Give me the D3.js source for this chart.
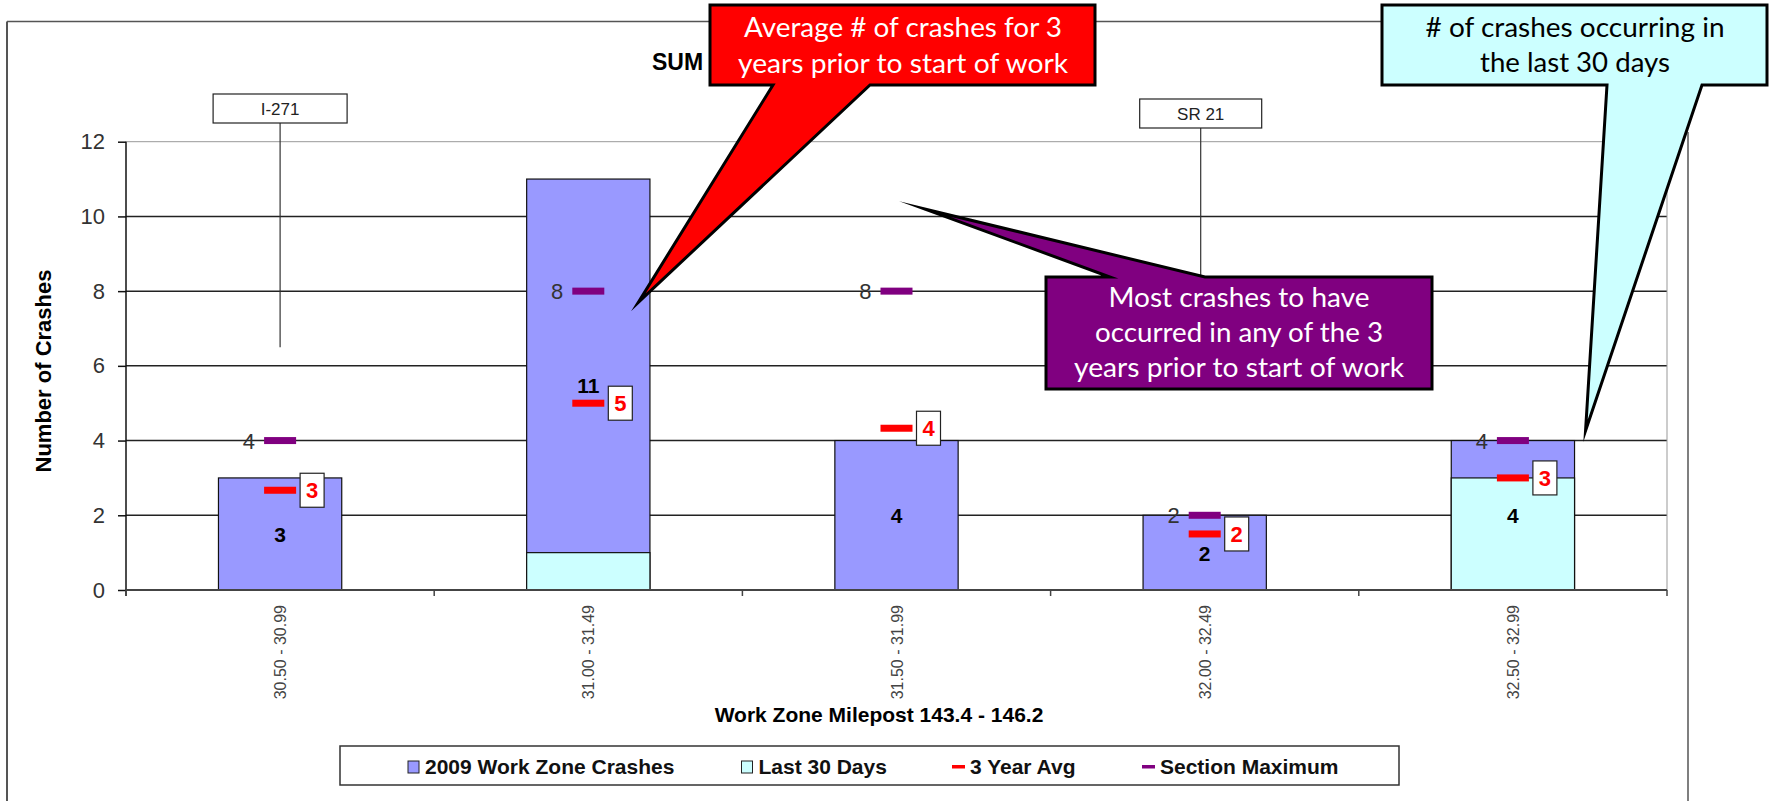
<!DOCTYPE html>
<html lang="en">
<head>
    <meta charset="UTF-8">
    <title>Work Zone Crash Summary</title>
    <style>
        body { margin: 0; background: #fff; }
        .tick text { font-family: "Liberation Sans", Arial, sans-serif; }
        .callout-text { font-family: Lato, "Open Sans", sans-serif; font-size: 27px; text-anchor: middle; }
    </style>
    <script src="https://d3js.org/d3.v7.min.js"></script>
</head>
<body>
    <div id="chart"></div>
    <script>
        const categories = ["30.50 - 30.99", "31.00 - 31.49", "31.50 - 31.99", "32.00 - 32.49", "32.50 - 32.99"];
        const workZoneCrashes = [3, 11, 4, 2, 4];
        const last30Days = [0, 1, 0, 0, 3];
        const threeYearAvg = [2.67, 5, 4.33, 1.5, 3];
        const sectionMax = [4, 8, 8, 2, 4];
        const yTicks = [0, 2, 4, 6, 8, 10, 12];
        const routeMarkers = [
            { name: "I-271", category: "30.50 - 30.99", top: 6.5 },
            { name: "SR 21", category: "32.00 - 32.49", top: 6.5 }
        ];
        const legendItems = ["2009 Work Zone Crashes", "Last 30 Days", "3 Year Avg", "Section Maximum"];

        const width = 1773, height = 801;
        const font = '"Liberation Sans", Arial, sans-serif';

        const svg = d3.select("#chart").append("svg")
            .attr("width", width)
            .attr("height", height);

        const x = d3.scaleBand().domain(categories).range([126, 1667]);
        const y = d3.scaleLinear().domain([0, 12]).range([590, 141.7]);
        const bw = x.bandwidth() * 0.4;
        const cx = c => x(c) + x.bandwidth() / 2;

        // outer chart frame
        svg.append("line").attr("x1", 7).attr("x2", 7).attr("y1", 21.5).attr("y2", height)
            .attr("stroke", "#555").attr("stroke-width", 2);
        svg.append("line").attr("x1", 7).attr("x2", 1688).attr("y1", 21.5).attr("y2", 21.5)
            .attr("stroke", "#555").attr("stroke-width", 1.5);
        svg.append("line").attr("x1", 1688).attr("x2", 1688).attr("y1", 132).attr("y2", height)
            .attr("stroke", "#555").attr("stroke-width", 1.5);

        // title, the rest of it sits under the red callout
        svg.append("text")
            .attr("x", 652).attr("y", 70)
            .attr("font-family", font).attr("font-size", 23).attr("font-weight", "bold")
            .text("SUM");

        // gridlines
        svg.append("g").selectAll("line")
            .data(yTicks.filter(d => d > 0))
            .join("line")
            .attr("x1", 126).attr("x2", 1667)
            .attr("y1", d => y(d)).attr("y2", d => y(d))
            .attr("stroke", d => d === 12 ? "#999" : "#222")
            .attr("stroke-width", d => d === 12 ? 1 : 1.5);
        svg.append("line").attr("x1", 1667).attr("x2", 1667).attr("y1", y(12)).attr("y2", y(0))
            .attr("stroke", "#999");

        // route markers
        const markerBox = { "I-271": { w: 134, top: 94 }, "SR 21": { w: 122, top: 99 } };
        routeMarkers.forEach(m => {
            const b = markerBox[m.name];
            const mx = m.name === "SR 21" ? cx(m.category) - 4 : cx(m.category);
            svg.append("line")
                .attr("x1", mx).attr("x2", mx)
                .attr("y1", b.top + 29).attr("y2", y(m.top))
                .attr("stroke", "#333").attr("stroke-width", 1.2);
            svg.append("rect")
                .attr("x", mx - b.w / 2).attr("y", b.top)
                .attr("width", b.w).attr("height", 29)
                .attr("fill", "#fff").attr("stroke", "#222").attr("stroke-width", 1.2);
            svg.append("text")
                .attr("x", mx).attr("y", b.top + 21)
                .attr("text-anchor", "middle")
                .attr("font-family", font).attr("font-size", 17).attr("fill", "#222")
                .text(m.name);
        });

        // bars: 2009 total behind, last 30 days in front
        svg.append("g").selectAll("rect")
            .data(categories)
            .join("rect")
            .attr("x", d => cx(d) - bw / 2)
            .attr("y", (d, i) => y(workZoneCrashes[i]))
            .attr("width", bw)
            .attr("height", (d, i) => y(0) - y(workZoneCrashes[i]))
            .attr("fill", "#9999FF").attr("stroke", "#111").attr("stroke-width", 1.2);

        svg.append("g").selectAll("rect")
            .data(categories.filter((d, i) => last30Days[i] > 0))
            .join("rect")
            .attr("x", d => cx(d) - bw / 2)
            .attr("y", d => y(last30Days[categories.indexOf(d)]))
            .attr("width", bw)
            .attr("height", d => y(0) - y(last30Days[categories.indexOf(d)]))
            .attr("fill", "#CCFFFF").attr("stroke", "#111").attr("stroke-width", 1.2);

        // axes
        const yAxis = svg.append("g")
            .attr("transform", "translate(126,0)")
            .call(d3.axisLeft(y).tickValues(yTicks).tickSize(8).tickPadding(13));
        yAxis.select(".domain").attr("stroke", "#111").attr("stroke-width", 1.5)
            .attr("d", `M0,${y(12)}V${y(0) + 6}`);
        yAxis.selectAll(".tick line").attr("stroke", "#111").attr("stroke-width", 1.5);
        yAxis.selectAll(".tick text").attr("font-size", 22).attr("fill", "#333");

        svg.append("line").attr("x1", 126).attr("x2", 1667).attr("y1", y(0)).attr("y2", y(0))
            .attr("stroke", "#444").attr("stroke-width", 2);
        const bounds = categories.map(c => x(c)).concat([x.range()[1]]);
        svg.append("g").selectAll("line")
            .data(bounds)
            .join("line")
            .attr("x1", d => d).attr("x2", d => d)
            .attr("y1", y(0)).attr("y2", y(0) + 6)
            .attr("stroke", "#444").attr("stroke-width", 1.5);

        svg.append("g").selectAll("text")
            .data(categories)
            .join("text")
            .attr("transform", d => `translate(${cx(d) + 6},605) rotate(-90)`)
            .attr("text-anchor", "end")
            .attr("font-family", font).attr("font-size", 16).attr("fill", "#444")
            .text(d => d);

        svg.append("text")
            .attr("x", 879).attr("y", 722)
            .attr("text-anchor", "middle")
            .attr("font-family", font).attr("font-size", 21).attr("font-weight", "bold")
            .text("Work Zone Milepost 143.4 - 146.2");

        svg.append("text")
            .attr("transform", "translate(51,371) rotate(-90)")
            .attr("text-anchor", "middle")
            .attr("font-family", font).attr("font-size", 22).attr("font-weight", "bold")
            .text("Number of Crashes");

        // bar value labels
        svg.append("g").selectAll("text")
            .data(categories)
            .join("text")
            .attr("x", d => cx(d))
            .attr("y", (d, i) => y(workZoneCrashes[i] / 2) + 8)
            .attr("text-anchor", "middle")
            .attr("font-family", font).attr("font-size", 21).attr("font-weight", "bold")
            .attr("fill", "#000")
            .text((d, i) => workZoneCrashes[i]);

        // section maximum marks
        svg.append("g").selectAll("rect")
            .data(categories)
            .join("rect")
            .attr("x", d => cx(d) - 16).attr("y", (d, i) => y(sectionMax[i]) - 3.5)
            .attr("width", 32).attr("height", 7)
            .attr("fill", "#800080");
        svg.append("g").selectAll("text")
            .data(categories)
            .join("text")
            .attr("x", d => cx(d) - 25)
            .attr("y", (d, i) => y(sectionMax[i]) + 8)
            .attr("text-anchor", "end")
            .attr("font-family", font).attr("font-size", 22).attr("fill", "#333")
            .text((d, i) => sectionMax[i]);

        // 3 year average marks with boxed labels
        svg.append("g").selectAll("rect")
            .data(categories)
            .join("rect")
            .attr("x", d => cx(d) - 16).attr("y", (d, i) => y(threeYearAvg[i]) - 3.5)
            .attr("width", 32).attr("height", 7)
            .attr("fill", "#FF0000");
        const avgLabels = svg.append("g").selectAll("g")
            .data(categories)
            .join("g")
            .attr("transform", (d, i) => `translate(${cx(d) + 20},${y(threeYearAvg[i])})`);
        avgLabels.append("rect")
            .attr("x", 0).attr("y", -17).attr("width", 24).attr("height", 34)
            .attr("fill", "#fff").attr("stroke", "#222").attr("stroke-width", 1.2);
        avgLabels.append("text")
            .attr("x", 12).attr("y", 8)
            .attr("text-anchor", "middle")
            .attr("font-family", font).attr("font-size", 22).attr("font-weight", "bold")
            .attr("fill", "#FF0000")
            .text((d, i) => Math.round(threeYearAvg[i]));

        // legend
        const legend = svg.append("g").attr("font-family", font);
        legend.append("rect")
            .attr("x", 340).attr("y", 746).attr("width", 1059).attr("height", 39)
            .attr("fill", "#fff").attr("stroke", "#333").attr("stroke-width", 1.5);
        const legendX = [408, 741.5, 952, 1142];
        const legendColor = ["#9999FF", "#CCFFFF", "#FF0000", "#800080"];
        legendItems.forEach((t, i) => {
            if (i < 2) {
                legend.append("rect")
                    .attr("x", legendX[i]).attr("y", 761).attr("width", 11).attr("height", 12)
                    .attr("fill", legendColor[i]).attr("stroke", "#222");
            } else {
                legend.append("rect")
                    .attr("x", legendX[i]).attr("y", 765).attr("width", 13).attr("height", 3.5)
                    .attr("fill", legendColor[i]);
            }
            legend.append("text")
                .attr("x", legendX[i] + (i < 2 ? 17 : 18)).attr("y", 774)
                .attr("font-size", 21).attr("font-weight", "bold").attr("fill", "#111")
                .text(t);
        });

        // callouts
        const callouts = [
            {
                fill: "#FF0000", textColor: "#fff",
                path: `M710,5H1095V85H870L${x(categories[1]) + x.bandwidth() / 2 + 50},${y(7.7)}L773,85H710Z`,
                lines: ["Average # of crashes for 3", "years prior to start of work"],
                cx: 903, baselines: [37, 73], lengths: [318, 330]
            },
            {
                fill: "#CCFFFF", textColor: "#000",
                path: `M1382,5H1767V85H1702L${cx(categories[4]) + bw / 2 + 11},${y(4.26)}L1607,85H1382Z`,
                lines: ["# of crashes occurring in", "the last 30 days"],
                cx: 1575, baselines: [37, 72], lengths: [299, 190]
            },
            {
                fill: "#800080", textColor: "#fff",
                path: `M1046,277H1110L${cx(categories[2]) + 28},${y(10.2)}L1205,277H1432V389H1046Z`,
                lines: ["Most crashes to have", "occurred in any of the 3", "years prior to start of work"],
                cx: 1239, baselines: [307, 342, 377], lengths: [261, 288, 330]
            }
        ];
        callouts.forEach(c => {
            svg.append("path")
                .attr("d", c.path)
                .attr("fill", c.fill)
                .attr("stroke", "#000").attr("stroke-width", 3)
                .attr("stroke-linejoin", "miter").attr("stroke-miterlimit", 20);
            c.lines.forEach((l, i) => {
                svg.append("text")
                    .attr("class", "callout-text")
                    .attr("x", c.cx).attr("y", c.baselines[i])
                    .attr("fill", c.textColor)
                    .attr("textLength", c.lengths[i])
                    .attr("lengthAdjust", "spacingAndGlyphs")
                    .text(l);
            });
        });
    </script>
</body>
</html>
